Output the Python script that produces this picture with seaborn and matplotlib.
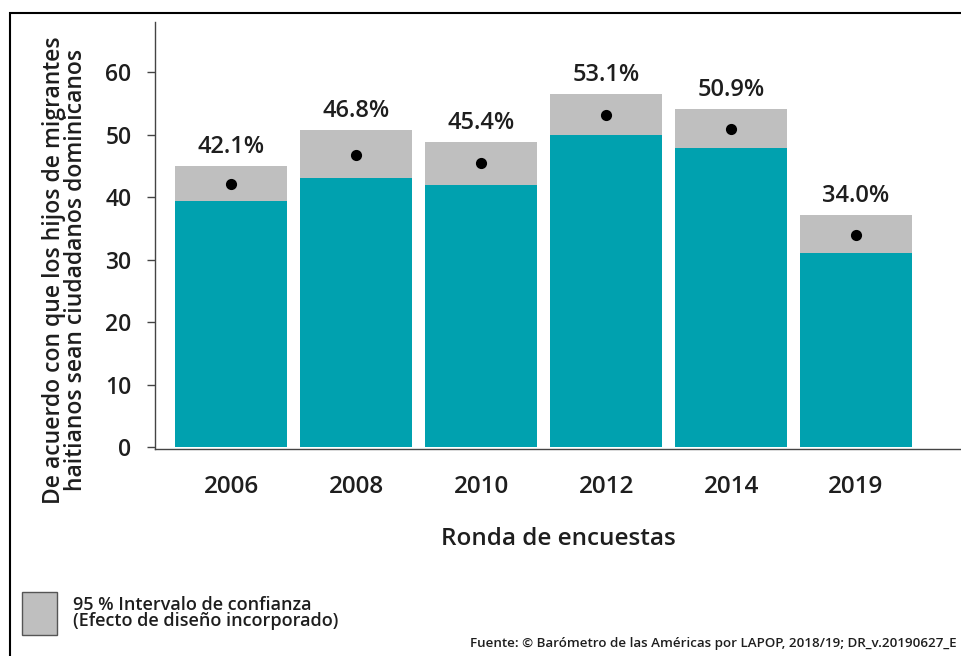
import matplotlib
matplotlib.use("Agg")
import matplotlib.pyplot as plt
import seaborn as sns
import pandas as pd
from matplotlib.patches import Rectangle

# --- Data ---
years = ["2006", "2008", "2010", "2012", "2014", "2019"]
means = [42.1, 46.8, 45.4, 53.1, 50.9, 34.0]
ci_low = [39.3, 43.1, 41.9, 49.9, 47.8, 31.0]
ci_high = [45.0, 50.7, 48.8, 56.5, 54.1, 37.1]
labels = ["42.1%", "46.8%", "45.4%", "53.1%", "50.9%", "34.0%"]

TEAL = "#00A1AF"
GRAY = "#BFBFBF"
TXT = "#1E1E1E"

df = pd.DataFrame({"year": years, "mean": means, "low": ci_low, "high": ci_high})

sns.set_style("white")
plt.rcParams["font.family"] = ["Open Sans", "DejaVu Sans"]
plt.rcParams["font.weight"] = "semibold"
plt.rcParams["axes.labelweight"] = "semibold"

fig = plt.figure(figsize=(9.61, 6.56), dpi=100)
ax = fig.add_axes([0.1613, 0.3155, 0.84, 0.651])

# gray CI band (full height to upper bound), then teal up to lower bound
sns.barplot(data=df, x="year", y="high", color=GRAY, width=0.9,
            saturation=1, linewidth=0, ax=ax)
sns.barplot(data=df, x="year", y="low", color=TEAL, width=0.9,
            saturation=1, linewidth=0, ax=ax)
sns.pointplot(data=df, x="year", y="mean", color="black", linestyle="none",
              markers="o", markersize=6, errorbar=None, ax=ax)

for i, (hi, lab) in enumerate(zip(ci_high, labels)):
    ax.annotate(lab, (i, hi), xytext=(0, 13.5), textcoords="offset points",
                ha="center", va="center", fontsize=17, color=TXT)

ax.set_xlim(-0.61, 5.85)
ax.set_ylim(-0.3, 68.0)
ax.set_yticks([0, 10, 20, 30, 40, 50, 60])
ax.tick_params(axis="y", labelsize=16.5, length=6, width=1, color="#444444",
               left=True, pad=11, labelcolor=TXT)
ax.tick_params(axis="x", labelsize=17.5, length=0, pad=19, labelcolor=TXT)
ax.set_xlabel("Ronda de encuestas", fontsize=17.5, fontweight="semibold",
              labelpad=20, color=TXT)
ax.set_ylabel("")
for side in ["top", "right"]:
    ax.spines[side].set_visible(False)
for side in ["left", "bottom"]:
    ax.spines[side].set_color("#444444")
    ax.spines[side].set_linewidth(1)

fig.text(65 / 961, 1 - 270 / 656,
         "De acuerdo con que los hijos de migrantes\nhaitianos sean ciudadanos dominicanos",
         rotation=90, ha="center", va="center", fontsize=16.5,
         color=TXT, linespacing=0.92)

# legend box
fig.patches.append(Rectangle((22 / 961, 1 - 635 / 656), 35 / 961, 43 / 656,
                             transform=fig.transFigure, facecolor=GRAY,
                             edgecolor="#555555", linewidth=1))
fig.text(73 / 961, 1 - 613 / 656,
         "95 % Intervalo de confianza\n(Efecto de diseño incorporado)",
         ha="left", va="center", fontsize=13, color=TXT, linespacing=0.92)

fig.text(957 / 961, 1 - 643 / 656,
         "Fuente: © Barómetro de las Américas por LAPOP, 2018/19; DR_v.20190627_E",
         ha="right", va="center", fontsize=9.6, color=TXT)

# outer frame (left and top edges visible)
fig.patches.append(Rectangle((10 / 961, -0.05), 1.0, 1 - 13 / 656 + 0.05,
                             transform=fig.transFigure, facecolor="none",
                             edgecolor="black", linewidth=1.5))

fig.savefig("out.png", dpi=100)
